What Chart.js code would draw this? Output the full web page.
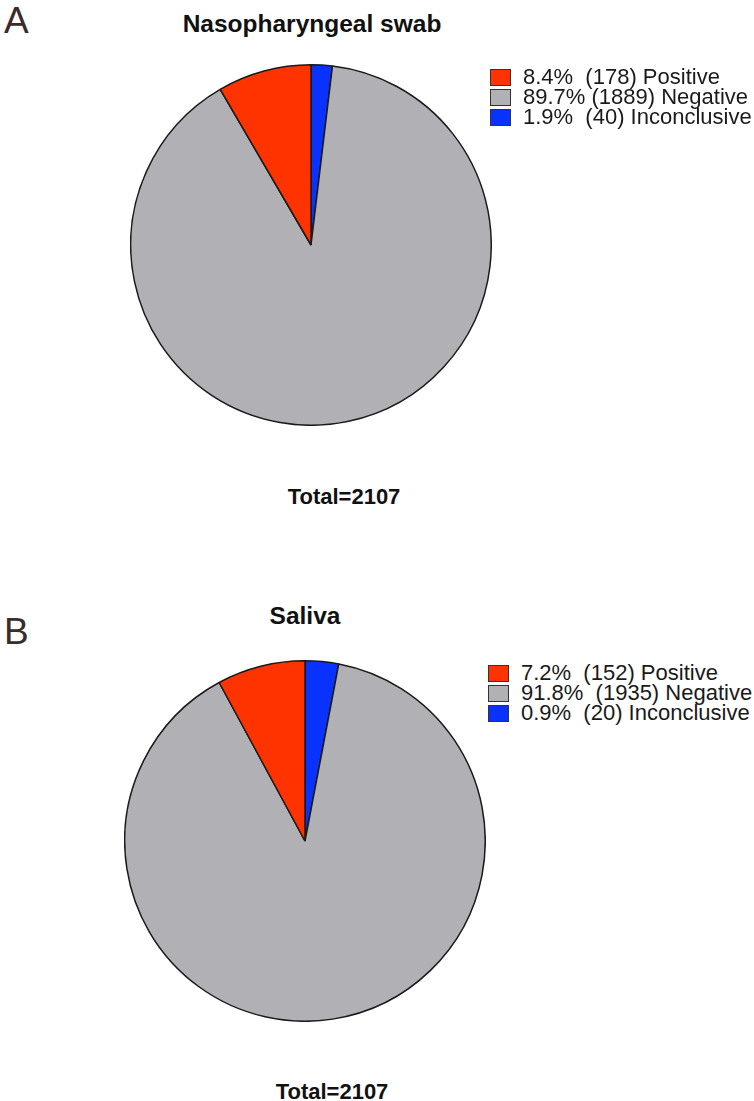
<!DOCTYPE html>
<html>
<head>
<meta charset="utf-8">
<script src="https://cdn.jsdelivr.net/npm/chart.js@4/dist/chart.umd.min.js"></script>
<style>
  body { margin: 0; width: 754px; height: 1101px; background: #fff; position: relative; overflow: hidden;
         font-family: "Liberation Sans", Arial, sans-serif; }
  .abs { position: absolute; }
  .letter { font-size: 37px; color: #3a2c2c; line-height: 1; }
  .title, .total { font-weight: bold; color: #111; line-height: 1; transform: translateX(-50%); white-space: nowrap; }
  .title { font-size: 24.5px; }
  .total { font-size: 22px; }
  .leg { font-size: 22px; color: #1a1a1a; line-height: 20px; white-space: pre; }
  .leg div { position: relative; padding-left: 33px; height: 20px; }
  .leg span.box { position: absolute; left: 0; top: 2px; width: 19px; height: 15px; border: 1.5px solid #333; }
</style>
</head>
<body>
<div class="abs letter" style="left:4px;top:2px;">A</div>
<div class="abs title" style="left:312px;top:12px;">Nasopharyngeal swab</div>
<div class="abs" style="left:130px;top:64px;width:362px;height:362px;"><canvas id="pieA" width="362" height="362"></canvas></div>
<div class="abs leg" id="legA" style="left:490px;top:67px;"></div>
<div class="abs total" style="left:344px;top:486px;">Total=2107</div>

<div class="abs letter" style="left:4px;top:613px;">B</div>
<div class="abs title" style="left:305px;top:604px;">Saliva</div>
<div class="abs" style="left:124px;top:660px;width:362px;height:362px;"><canvas id="pieB" width="362" height="362"></canvas></div>
<div class="abs leg" id="legB" style="left:488px;top:663px;"></div>
<div class="abs total" style="left:332px;top:1081px;">Total=2107</div>

<script>
// legend order
var categories = ['Positive', 'Negative', 'Inconclusive'];
var colors = ['#ff3300', '#b1b1b5', '#0a32ff'];

// A: nasopharyngeal swab
var swabPct = ['8.4%', '89.7%', '1.9%'];
var swabCount = [178, 1889, 40];
var swabShare = [8.4, 89.7, 1.9];

// B: saliva (slice sizes as drawn in the figure)
var salivaPct = ['7.2%', '91.8%', '0.9%'];
var salivaCount = [152, 1935, 20];
var salivaShare = [7.9, 89.1, 3.0];

function drawPie(canvasId, share){
    // slices run clockwise from 12 o'clock: Inconclusive, Negative, Positive
    var order = [2, 1, 0];
    var ctx = document.getElementById(canvasId).getContext('2d');
    new Chart(ctx, {
        type: 'pie',
        data: {
            labels: order.map(function(i){ return categories[i]; }),
            datasets: [{
                data: order.map(function(i){ return share[i]; }),
                backgroundColor: order.map(function(i){ return colors[i]; }),
                borderColor: '#1a1a1a',
                borderWidth: 1.5
            }]
        },
        options: {
            responsive: false,
            animation: false,
            rotation: 0,
            events: [], /* no hover */
            plugins: {
                legend: { display: false },
                tooltip: { enabled: false }
            }
        }
    });
}

function fillLegend(id, pct, count){
    var el = document.getElementById(id);
    var gaps = id === 'legA' ? ['  ', ' ', '  '] : ['  ', '  ', '  '];
    categories.forEach(function(c, i){
        var row = document.createElement('div');
        var box = document.createElement('span');
        box.className = 'box';
        box.style.background = colors[i];
        row.appendChild(box);
        row.appendChild(document.createTextNode(pct[i] + gaps[i] + '(' + count[i] + ') ' + c));
        el.appendChild(row);
    });
}

drawPie('pieA', swabShare);
drawPie('pieB', salivaShare);
fillLegend('legA', swabPct, swabCount);
fillLegend('legB', salivaPct, salivaCount);
</script>
</body>
</html>
